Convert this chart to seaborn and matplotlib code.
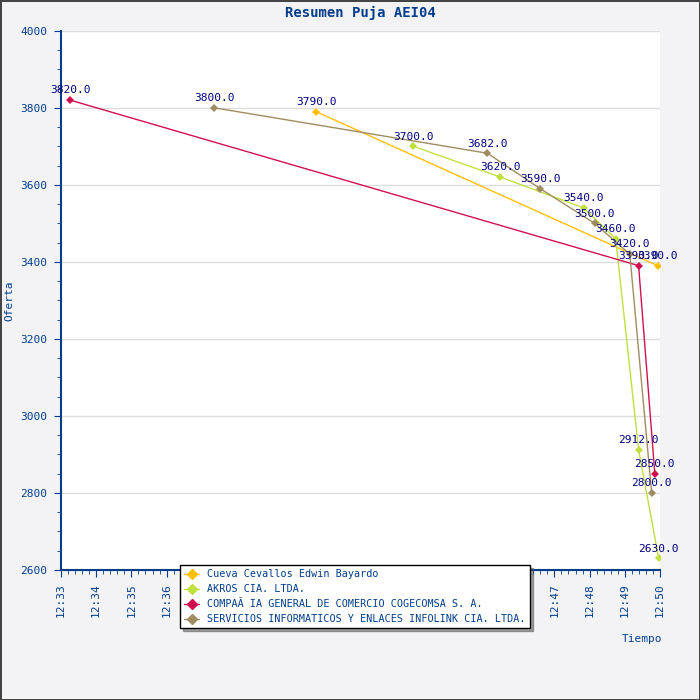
import matplotlib
matplotlib.use("Agg")
import matplotlib.pyplot as plt
import seaborn as sns
import pandas as pd
from matplotlib.ticker import MultipleLocator

# minutes after 12:33, offer value
cueva_t = [7.24, 16.93]
cueva_v = [3790.0, 3390.0]
akros_t = [10.0, 12.47, 14.83, 15.74, 16.39, 16.96]
akros_v = [3700.0, 3620.0, 3540.0, 3460.0, 2912.0, 2630.0]
compania_t = [0.26, 16.39, 16.85]
compania_v = [3820.0, 3390.0, 2850.0]
servicios_t = [4.35, 12.1, 13.6, 15.14, 16.14, 16.76]
servicios_v = [3800.0, 3682.0, 3590.0, 3500.0, 3420.0, 2800.0]

names = ["Cueva Cevallos Edwin Bayardo", "AKROS CIA. LTDA.",
         "COMPAÃ IA GENERAL DE COMERCIO COGECOMSA S. A.",
         "SERVICIOS INFORMATICOS Y ENLACES INFOLINK CIA. LTDA."]
colors = ["#ffc000", "#c0e040", "#d0104c", "#a08c60"]
tick_labels = [f"12:{m}" for m in range(33, 51)]

frames = []
for n, t, v in zip(names, [cueva_t, akros_t, compania_t, servicios_t],
                   [cueva_v, akros_v, compania_v, servicios_v]):
    frames.append(pd.DataFrame({"t": t, "v": v, "name": n}))
df = pd.concat(frames)

sns.set_style("white")
plt.rcParams['font.family'] = ['DejaVu Sans Mono']
navy = "#003c8c"

fig = plt.figure(figsize=(7, 7), dpi=100, facecolor="#f3f3f5",
                 edgecolor="#444444", linewidth=1)
ax = fig.add_axes([0.087, 0.186, 0.856, 0.77])
ax.set_facecolor("white")

sns.lineplot(data=df, x="t", y="v", hue="name", palette=colors, hue_order=names,
             marker="D", markersize=4, markeredgewidth=0, linewidth=1,
             sort=False, ax=ax, legend=False)

for t, v in zip(df["t"], df["v"]):
    ax.text(t, v + 12, f"{v:.1f}", ha="center", va="bottom", fontsize=8, color="#000080")

ax.set_xlim(0, 17)
ax.set_ylim(2600, 4000)
ax.set_xticks(range(18))
ax.set_xticklabels(tick_labels, rotation=90, fontsize=8, color=navy)
ax.xaxis.set_minor_locator(MultipleLocator(0.2))
ax.yaxis.set_major_locator(MultipleLocator(200))
ax.yaxis.set_minor_locator(MultipleLocator(50))
ax.tick_params(axis="y", labelsize=8, labelcolor=navy)
ax.tick_params(which="both", direction="out", color=navy, bottom=True, left=True)
ax.tick_params(which="major", length=5, pad=5)
ax.tick_params(which="minor", length=3)
ax.grid(axis="y", color="#dddddd", linewidth=1)
for s in ["top", "right"]:
    ax.spines[s].set_visible(False)
for s in ["left", "bottom"]:
    ax.spines[s].set_color(navy)
    ax.spines[s].set_linewidth(1.5)

ax.set_xlabel("Tiempo", fontsize=8, color=navy)
ax.xaxis.set_label_coords(0.97, -0.12)
ax.set_ylabel("Oferta", fontsize=8, color=navy)
ax.set_title("Resumen Puja AEI04", fontsize=10, color=navy, fontweight="bold", pad=10)

handles = [plt.Line2D([], [], color=c, marker="D", markersize=5, linewidth=1) for c in colors]
leg = fig.legend(handles, names, loc="upper left", bbox_to_anchor=(0.25, 0.2),
                 fontsize=7.3, frameon=True, fancybox=False, shadow=True,
                 labelcolor=navy, handlelength=1.5, borderpad=0.4, labelspacing=0.5)
leg.get_frame().set_edgecolor("black")

fig.savefig("out.png", dpi=100, facecolor=fig.get_facecolor(), edgecolor=fig.get_edgecolor())
